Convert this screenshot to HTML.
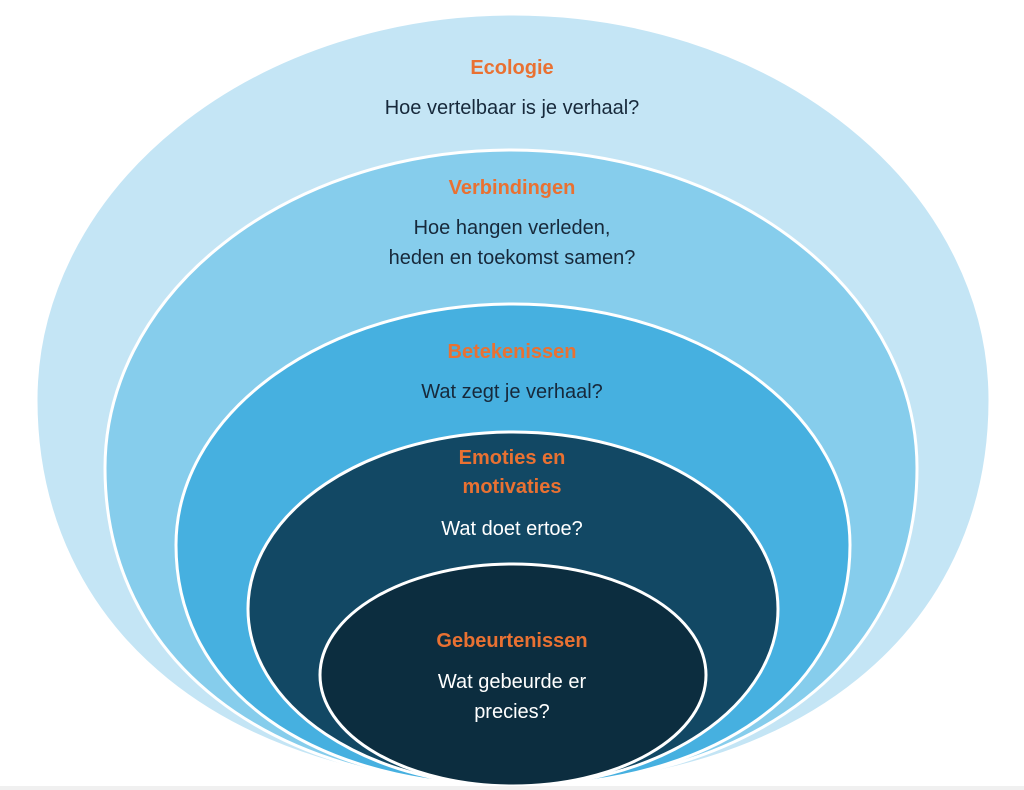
<!DOCTYPE html>
<html><head><meta charset="utf-8"><style>
html,body{margin:0;padding:0;background:#fff;}
svg{display:block;}
text{font-family:"Liberation Sans",sans-serif;text-anchor:middle;}
.t{fill:#e97132;font-weight:bold;font-size:20px;}
.d{fill:#17293b;font-size:20px;}
.w{fill:#ffffff;font-size:20px;}
</style></head><body>
<svg width="1024" height="790" viewBox="0 0 1024 790">
<rect width="1024" height="790" fill="#fff"/>
<path d="M36,400 A477,386 0 0 1 990,400 C990,632 799,786 513,786 C227,786 36,632 36,400Z" fill="#c4e5f5" stroke="#fff" stroke-width="3"/>
<path d="M105,468 A406,318 0 0 1 917,468 C917,659 755,786 511,786 C267,786 105,659 105,468Z" fill="#86cdec" stroke="#fff" stroke-width="3"/>
<path d="M176,545 A337,241 0 0 1 850,545 C850,690 715,786 513,786 C311,786 176,690 176,545Z" fill="#46b0e0" stroke="#fff" stroke-width="3"/>
<ellipse cx="513" cy="609" rx="265" ry="177" fill="#124864" stroke="#fff" stroke-width="3"/>
<ellipse cx="513" cy="675" rx="193" ry="111" fill="#0c2d3f" stroke="#fff" stroke-width="3"/>
<rect x="0" y="786" width="1024" height="4" fill="#f0f0f0"/>
<text class="t" x="512" y="74">Ecologie</text>
<text class="d" x="512" y="114">Hoe vertelbaar is je verhaal?</text>
<text class="t" x="512" y="194">Verbindingen</text>
<text class="d" x="512" y="234">Hoe hangen verleden,</text>
<text class="d" x="512" y="264">heden en toekomst samen?</text>
<text class="t" x="512" y="358">Betekenissen</text>
<text class="d" x="512" y="398">Wat zegt je verhaal?</text>
<text class="t" x="512" y="464">Emoties en</text>
<text class="t" x="512" y="493">motivaties</text>
<text class="w" x="512" y="535">Wat doet ertoe?</text>
<text class="t" x="512" y="647">Gebeurtenissen</text>
<text class="w" x="512" y="688">Wat gebeurde er</text>
<text class="w" x="512" y="718">precies?</text>
</svg>
</body></html>
